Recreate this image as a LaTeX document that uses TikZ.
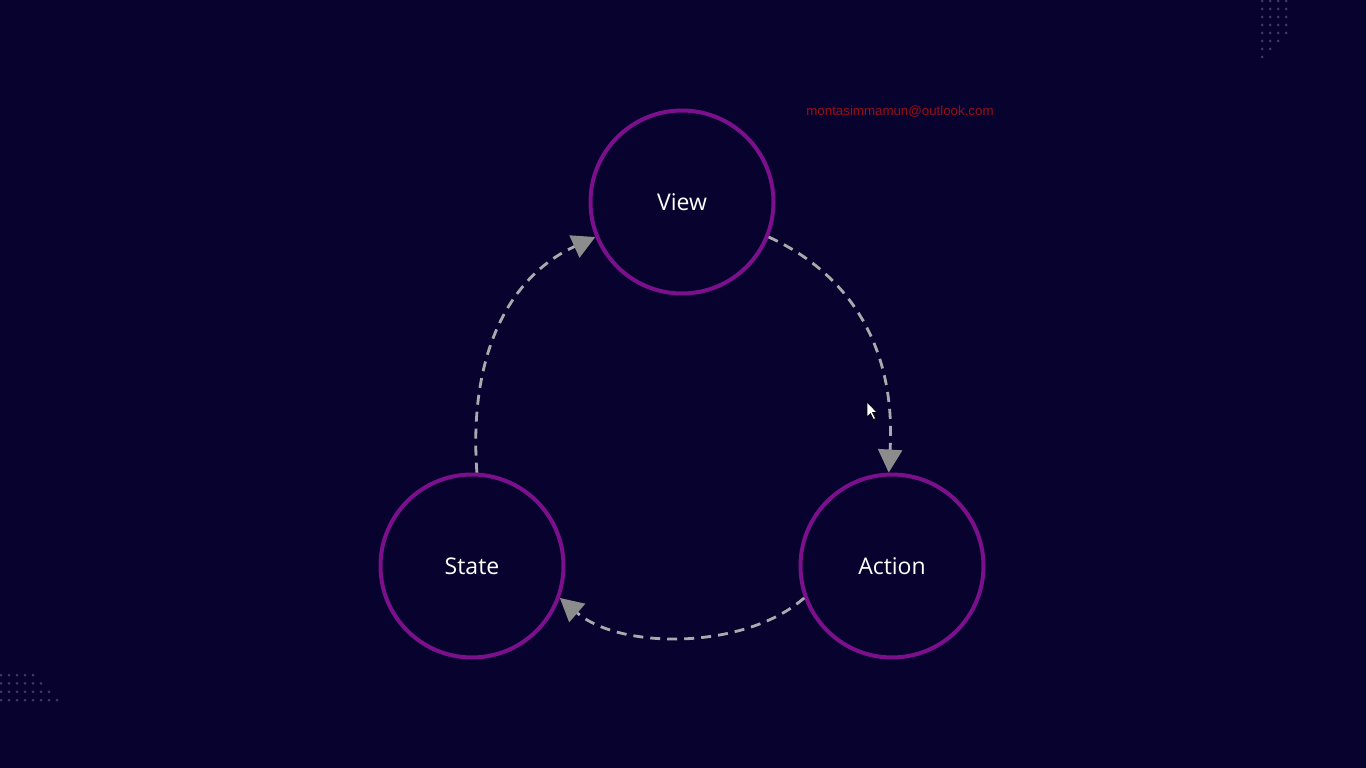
\documentclass[tikz,border=0pt]{standalone}
\usepackage{fontspec}
\setmainfont{Open Sans}
\newfontfamily\mailfont{Liberation Sans}
\usepackage{xcolor}
\usepackage{tikz}
\usetikzlibrary{arrows.meta}
\definecolor{bgnavy}{RGB}{8,3,46}
\definecolor{ringpurple}{RGB}{124,16,140}
\definecolor{flowgray}{RGB}{170,170,174}
\definecolor{tipgray}{RGB}{140,140,140}
\definecolor{dotgray}{RGB}{64,56,106}
\definecolor{mailred}{RGB}{155,12,22}
\tikzset{
	stage/.style={circle, draw=ringpurple, line width=4pt, minimum size=183pt, inner sep=0pt, text=white, font=\fontsize{23}{27}\selectfont},
	flow/.style={draw=flowgray, line width=2.8pt, dash pattern=on 10pt off 7pt, -{Triangle[length=23pt,width=24pt,color=tipgray]}},
	bgdot/.style={fill=dotgray}
}
\def\mail{montasimmamun@outlook.com}

\begin{document}
\begin{tikzpicture}[x=1pt,y=-1pt]
		\fill[bgnavy] (0,0) rectangle (1366,768);
		\useasboundingbox (0,0) rectangle (1366,768);
		
		% dot patterns in the corners
		\foreach \r/\n in {0/4,1/4,2/4,3/4,4/4,5/3,6/2,7/1}
			\foreach \c in {1,...,\n}
				\fill[bgdot] ({1254+8*\c},{1+8*\r}) circle (1.5);
		\foreach \r/\n in {0/5,1/6,2/7,3/8}
			\foreach \c in {1,...,\n}
				\fill[bgdot] ({-7+8*\c},{675+8.4*\r}) circle (1.5);
		
		\node[stage] (view) at (682,202) {\raisebox{-2pt}{View}};
		\node[stage] (action) at (892,566) {\raisebox{-2pt}{Action}};
		\node[stage] (state) at (472,566) {\raisebox{-2pt}{State}};
		
		\draw[flow] (view.-22) .. controls (852,275) and (896,350) .. (action.92);
		\draw[flow] (action.-160) .. controls (745,650) and (620,650) .. (state.-20);
		\draw[flow] (state.87) .. controls (468,350) and (512,275) .. (view.202);
		
		\node[text=mailred, font=\mailfont\fontsize{13.3}{15}\selectfont] (mail) at (900,112) {\mail};
		
		% pointer
		\filldraw[fill=white, draw=black, line width=0.6pt] (867,402) -- (867,417) -- (870.5,413.5) -- (873.5,419.5) -- (875.5,418.5) -- (872.5,412.5) -- (877,412.5) -- cycle;
	\end{tikzpicture}
\end{document}
